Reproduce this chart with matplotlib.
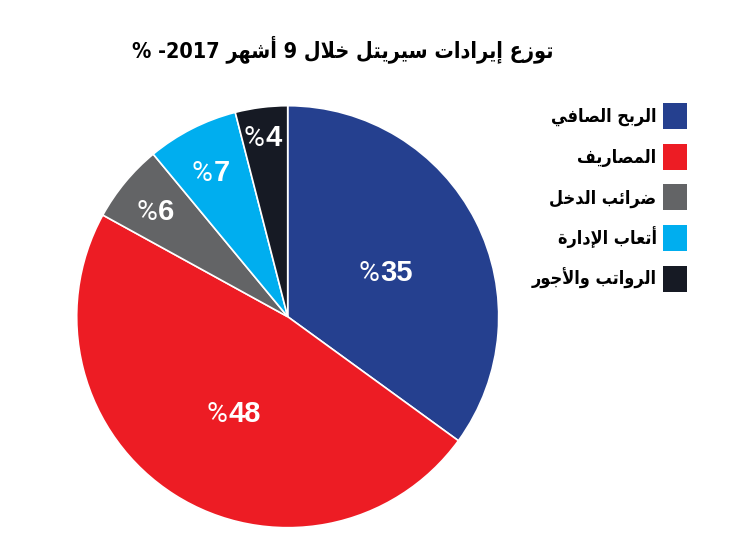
import matplotlib
matplotlib.use("Agg")
import matplotlib.pyplot as plt
from matplotlib.patches import Rectangle
import numpy as np

# ---------------- data ----------------
categories = ["الربح الصافي", "المصاريف", "ضرائب الدخل", "أتعاب الإدارة", "الرواتب والأجور"]
values = [35, 48, 6, 7, 4]
value_labels = ["35", "48", "6", "7", "4"]
title_text = "توزع إيرادات سيريتل خلال 9 أشهر -2017 %"
colors = ["#25408F", "#ED1C24", "#636466", "#00AEEF", "#161A24"]

# ---------------- simple Arabic shaping (presentation forms) ----------------
_DUAL = {
    "\u0626": 0xFE89, "\u0628": 0xFE8F, "\u062A": 0xFE95, "\u062B": 0xFE99,
    "\u062C": 0xFE9D, "\u062D": 0xFEA1, "\u062E": 0xFEA5, "\u0633": 0xFEB1,
    "\u0634": 0xFEB5, "\u0635": 0xFEB9, "\u0636": 0xFEBD, "\u0637": 0xFEC1,
    "\u0638": 0xFEC5, "\u0639": 0xFEC9, "\u063A": 0xFECD, "\u0641": 0xFED1,
    "\u0642": 0xFED5, "\u0643": 0xFED9, "\u0644": 0xFEDD, "\u0645": 0xFEE1,
    "\u0646": 0xFEE5, "\u0647": 0xFEE9, "\u064A": 0xFEF1,
}
_RIGHT = {
    "\u0622": 0xFE81, "\u0623": 0xFE83, "\u0624": 0xFE85, "\u0625": 0xFE87,
    "\u0627": 0xFE8D, "\u0629": 0xFE93, "\u062F": 0xFEA9, "\u0630": 0xFEAB,
    "\u0631": 0xFEAD, "\u0632": 0xFEAF, "\u0648": 0xFEED, "\u0649": 0xFEEF,
}
_NONE = {"\u0621": 0xFE80}
_LAMALEF = {"\u0622": 0xFEF5, "\u0623": 0xFEF7, "\u0625": 0xFEF9, "\u0627": 0xFEFB}


def _jtype(tok):
    if tok.startswith("LA"):
        return "R"
    if tok in _DUAL:
        return "D"
    if tok in _RIGHT:
        return "R"
    return "U"


def _shape_word(word):
    toks = []
    i = 0
    while i < len(word):
        c = word[i]
        if c == "\u0644" and i + 1 < len(word) and word[i + 1] in _LAMALEF:
            toks.append("LA" + word[i + 1])
            i += 2
        else:
            toks.append(c)
            i += 1
    out = []
    n = len(toks)
    for k, t in enumerate(toks):
        jt = _jtype(t)
        jp = k > 0 and _jtype(toks[k - 1]) == "D" and jt in ("D", "R")
        jn = k < n - 1 and jt == "D" and _jtype(toks[k + 1]) in ("D", "R")
        if t.startswith("LA"):
            base = _LAMALEF[t[2]]
            out.append(chr(base + (1 if jp else 0)))
        elif jt == "D":
            base = _DUAL[t]
            off = 3 if (jp and jn) else 1 if jp else 2 if jn else 0
            out.append(chr(base + off))
        elif jt == "R":
            out.append(chr(_RIGHT[t] + (1 if jp else 0)))
        elif t in _NONE:
            out.append(chr(_NONE[t]))
        else:
            out.append(t)
    return "".join(reversed(out))


def ar(text):
    words = text.split(" ")
    vis = []
    for w in words:
        if any("\u0600" <= ch <= "\u06FF" for ch in w):
            vis.append(_shape_word(w))
        else:
            vis.append(w)
    return " ".join(reversed(vis))


# ---------------- figure ----------------
W, H = 739, 546
fig = plt.figure(figsize=(W / 100, H / 100), dpi=100)
fig.patch.set_facecolor("white")

cx, cy, R = 287.7, 316.7, 211.0
ax = fig.add_axes([(cx - R) / W, (H - cy - R) / H, 2 * R / W, 2 * R / H])
wedges, _ = ax.pie(values, colors=colors, startangle=90, counterclock=False,
                   wedgeprops=dict(edgecolor="white", linewidth=1.2))
ax.set_xlim(-1, 1)
ax.set_ylim(-1, 1)
ax.set_aspect("equal")
ax.axis("off")
for w in wedges:
    w.set_clip_on(False)

label_r = [0.49, 0.53, 0.80, 0.78, 0.87]
for w, lab, f in zip(wedges, value_labels, label_r):
    ang = np.deg2rad((w.theta1 + w.theta2) / 2)
    x, y = f * np.cos(ang), f * np.sin(ang)
    ax.annotate(lab, (x, y), xytext=(0.5, -8), textcoords="offset points",
                ha="left", va="baseline", color="white", fontsize=21,
                fontweight="bold", family="Liberation Sans")
    ax.annotate("%", (x, y), xytext=(-0.5, -8), textcoords="offset points",
                ha="right", va="baseline", color="white", fontsize=20.5,
                fontweight="normal", family="Roboto")

# overlay in pixel coordinates for title and legend
ov = fig.add_axes([0, 0, 1, 1])
ov.set_xlim(0, W)
ov.set_ylim(H, 0)
ov.axis("off")
ov.patch.set_alpha(0)

ov.text(343, 57, ar(title_text), ha="center", va="baseline", fontsize=15.5,
        fontweight="bold", fontstretch="condensed", family=["DejaVu Sans"],
        color="black")

for i, (cat, col) in enumerate(zip(categories, colors)):
    y0 = 102.8 + i * 40.8
    ov.add_patch(Rectangle((662.5, y0), 24, 26, facecolor=col, edgecolor="none"))
    ov.text(656.5, y0 + 13 + 6, ar(cat), ha="right", va="baseline",
            fontsize=13, fontweight="bold", fontstretch="condensed",
            family=["DejaVu Sans"], color="black")

fig.savefig("out.png", dpi=100, facecolor="white")
